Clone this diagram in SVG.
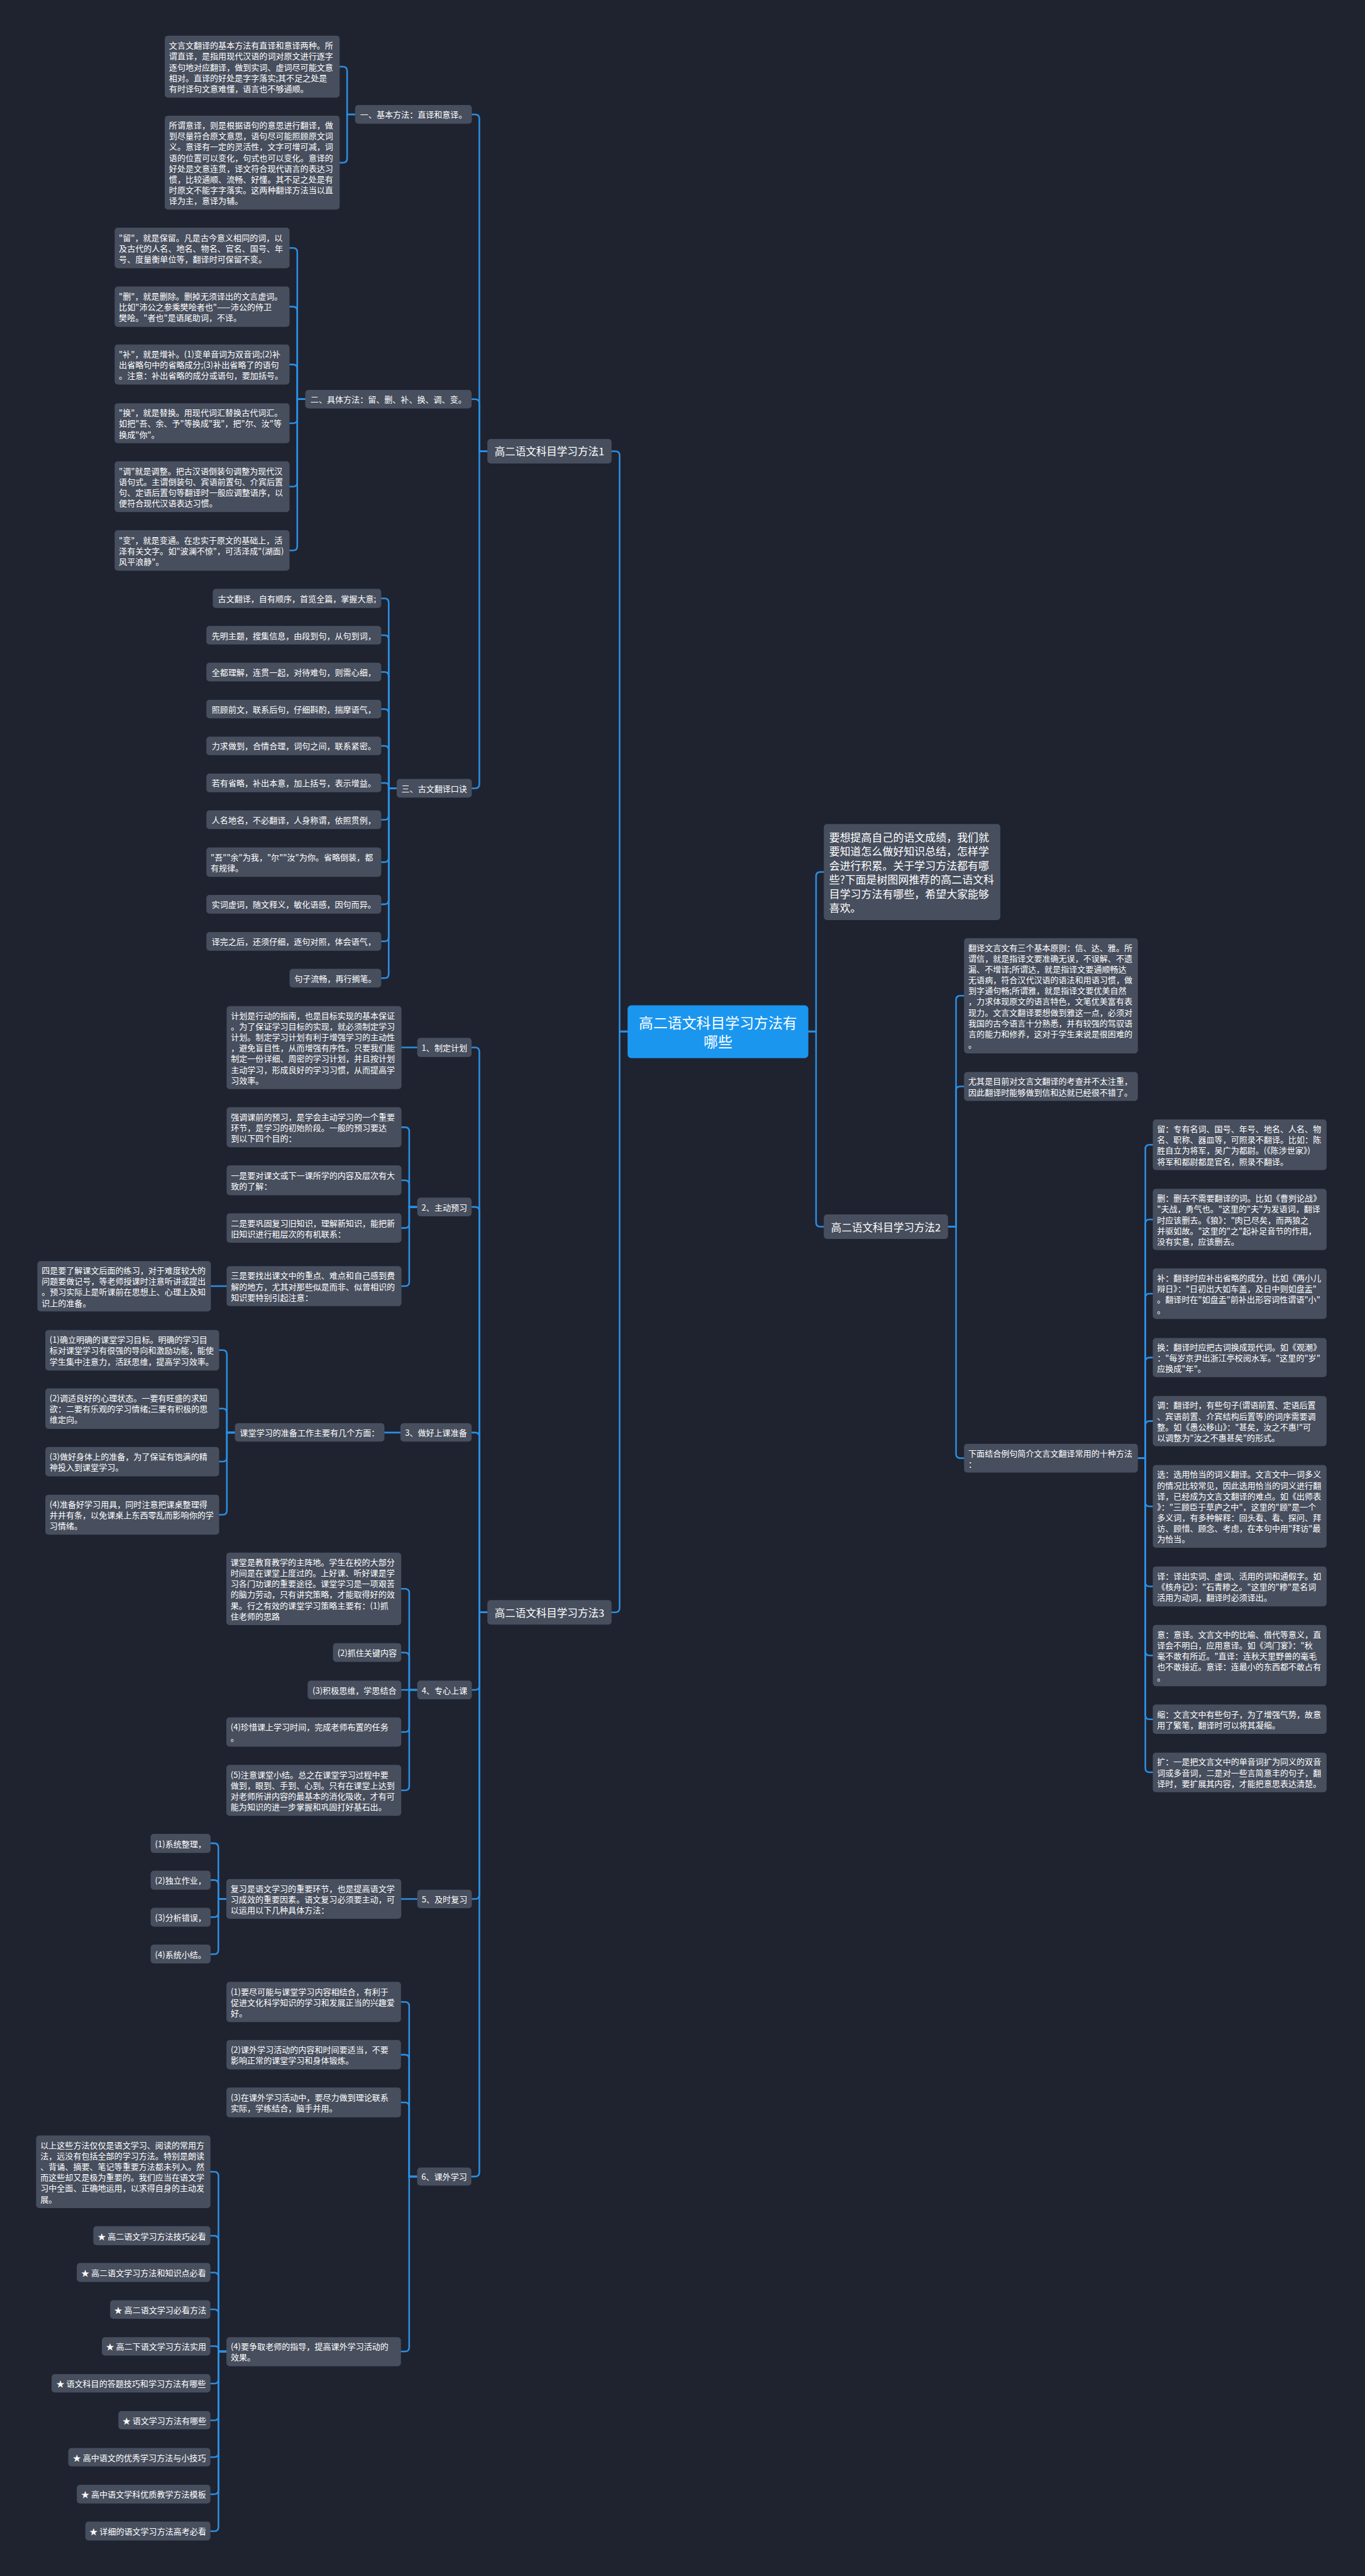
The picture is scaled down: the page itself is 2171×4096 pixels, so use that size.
<svg xmlns="http://www.w3.org/2000/svg" width="2171" height="4096" viewBox="0 0 2171 4096">
<style>
.nd{fill:#474e5d}
.rt{fill:#1a96ef}
.tx{fill:#ffffff;font-family:"Noto Sans CJK SC","Liberation Sans",sans-serif;font-size:15.4px;dominant-baseline:central}
.m{text-anchor:middle}
.br{font-size:19.5px}
.big{font-size:27px}
.in{font-size:20px}
.c{fill:none;stroke:#2b8fe3;stroke-width:3;stroke-linecap:round}
</style>
<rect x="0" y="0" width="2171" height="4096" fill="#1f2330"/>
<g transform="scale(0.84805)">
<g id="connectors">
<path class="c" d="M1177 1934H1162V854Q1162 846 1154 846H1147"/>
<path class="c" d="M1177 1934H1162V3015Q1162 3023 1154 3023H1147"/>
<path class="c" d="M914 846H899V222.5Q899 214.5 891 214.5H885"/>
<path class="c" d="M914 846H899V756.5Q899 748.5 891 748.5H885"/>
<path class="c" d="M914 846H899V1470Q899 1478 891 1478H885"/>
<path class="c" d="M666 214.5H651V133Q651 125 643 125H637"/>
<path class="c" d="M666 214.5H651V297Q651 305 643 305H637"/>
<path class="c" d="M572.5 748.5H557.5V473Q557.5 465 549.5 465H543"/>
<path class="c" d="M572.5 748.5H557.5V583Q557.5 575 549.5 575H543"/>
<path class="c" d="M572.5 748.5H557.5V691.5Q557.5 683.5 549.5 683.5H543"/>
<path class="c" d="M572.5 748.5H557.5V785.5Q557.5 793.5 549.5 793.5H543"/>
<path class="c" d="M572.5 748.5H557.5V904.5Q557.5 912.5 549.5 912.5H543"/>
<path class="c" d="M572.5 748.5H557.5V1024Q557.5 1032 549.5 1032H543"/>
<path class="c" d="M744 1478H729V1130Q729 1122 721 1122H715"/>
<path class="c" d="M744 1478H729V1199Q729 1191 721 1191H715"/>
<path class="c" d="M744 1478H729V1268Q729 1260 721 1260H715"/>
<path class="c" d="M744 1478H729V1337.5Q729 1329.5 721 1329.5H715"/>
<path class="c" d="M744 1478H729V1406.5Q729 1398.5 721 1398.5H715"/>
<path class="c" d="M744 1478H729V1474Q729 1468 723 1468H715"/>
<path class="c" d="M744 1478H729V1529Q729 1537 721 1537H715"/>
<path class="c" d="M744 1478H729V1608.5Q729 1616.5 721 1616.5H715"/>
<path class="c" d="M744 1478H729V1687.5Q729 1695.5 721 1695.5H715"/>
<path class="c" d="M744 1478H729V1757Q729 1765 721 1765H715"/>
<path class="c" d="M744 1478H729V1826Q729 1834 721 1834H715"/>
<path class="c" d="M914 3023H899V1972Q899 1964 891 1964H884.5"/>
<path class="c" d="M914 3023H899V2271Q899 2263 891 2263H884.5"/>
<path class="c" d="M914 3023H899V2694Q899 2686 891 2686H884.5"/>
<path class="c" d="M914 3023H899V3160.5Q899 3168.5 891 3168.5H884.5"/>
<path class="c" d="M914 3023H899V3552.5Q899 3560.5 891 3560.5H884.5"/>
<path class="c" d="M914 3023H899V4073Q899 4081 891 4081H884.5"/>
<path class="c" d="M782.5 1964H753"/>
<path class="c" d="M782.5 2263H767.5V2121.5Q767.5 2113.5 759.5 2113.5H753"/>
<path class="c" d="M782.5 2263H767.5V2221Q767.5 2213 759.5 2213H753"/>
<path class="c" d="M782.5 2263H767.5V2294.5Q767.5 2302.5 759.5 2302.5H753"/>
<path class="c" d="M782.5 2263H767.5V2403.5Q767.5 2411.5 759.5 2411.5H753"/>
<path class="c" d="M425 2411.5H395.5"/>
<path class="c" d="M751 2686H721"/>
<path class="c" d="M440.5 2686H425.5V2539.5Q425.5 2531.5 417.5 2531.5H411"/>
<path class="c" d="M440.5 2686H425.5V2649Q425.5 2641 417.5 2641H411"/>
<path class="c" d="M440.5 2686H425.5V2732.5Q425.5 2740.5 417.5 2740.5H411"/>
<path class="c" d="M440.5 2686H425.5V2832Q425.5 2840 417.5 2840H411"/>
<path class="c" d="M782.5 3168.5H767.5V2987Q767.5 2979 759.5 2979H752.6"/>
<path class="c" d="M782.5 3168.5H767.5V3106.5Q767.5 3098.5 759.5 3098.5H752.6"/>
<path class="c" d="M782.5 3168.5H752.6"/>
<path class="c" d="M782.5 3168.5H767.5V3239.5Q767.5 3247.5 759.5 3247.5H752.6"/>
<path class="c" d="M782.5 3168.5H767.5V3348.8Q767.5 3356.8 759.5 3356.8H752.6"/>
<path class="c" d="M782.5 3560.5H752.6"/>
<path class="c" d="M424.5 3560.5H409.5V3464Q409.5 3456 401.5 3456H395"/>
<path class="c" d="M424.5 3560.5H409.5V3533Q409.5 3525 401.5 3525H395"/>
<path class="c" d="M424.5 3560.5H409.5V3586.5Q409.5 3594.5 401.5 3594.5H395"/>
<path class="c" d="M424.5 3560.5H409.5V3656Q409.5 3664 401.5 3664H395"/>
<path class="c" d="M782.4 4081H767.4V3761.7Q767.4 3753.7 759.4 3753.7H752"/>
<path class="c" d="M782.4 4081H767.4V3860.5Q767.4 3852.5 759.4 3852.5H752"/>
<path class="c" d="M782.4 4081H767.4V3950Q767.4 3942 759.4 3942H752"/>
<path class="c" d="M782.4 4081H767.4V4401Q767.4 4409 759.4 4409H752"/>
<path class="c" d="M424.7 4409H409.7V4080Q409.7 4072 401.7 4072H394.6"/>
<path class="c" d="M424.7 4409H409.7V4200Q409.7 4192 401.7 4192H394.6"/>
<path class="c" d="M424.7 4409H409.7V4269Q409.7 4261 401.7 4261H394.6"/>
<path class="c" d="M424.7 4409H409.7V4338Q409.7 4330 401.7 4330H394.6"/>
<path class="c" d="M424.7 4409H409.7V4405Q409.7 4399 403.7 4399H394.6"/>
<path class="c" d="M424.7 4409H409.7V4461Q409.7 4469 401.7 4469H394.6"/>
<path class="c" d="M424.7 4409H409.7V4530Q409.7 4538 401.7 4538H394.6"/>
<path class="c" d="M424.7 4409H409.7V4599Q409.7 4607 401.7 4607H394.6"/>
<path class="c" d="M424.7 4409H409.7V4668.5Q409.7 4676.5 401.7 4676.5H394.6"/>
<path class="c" d="M424.7 4409H409.7V4738Q409.7 4746 401.7 4746H394.6"/>
<path class="c" d="M1516 1934H1530.5V1643Q1530.5 1635 1538.5 1635H1545"/>
<path class="c" d="M1516 1934H1530.5V2292Q1530.5 2300 1538.5 2300H1545"/>
<path class="c" d="M1778 2300H1793V1875Q1793 1867 1801 1867H1808"/>
<path class="c" d="M1778 2300H1793V2045Q1793 2037 1801 2037H1808"/>
<path class="c" d="M1778 2300H1793V2726Q1793 2734 1801 2734H1808"/>
<path class="c" d="M2134 2734H2148V2154.5Q2148 2146.5 2156 2146.5H2162"/>
<path class="c" d="M2134 2734H2148V2294.5Q2148 2286.5 2156 2286.5H2162"/>
<path class="c" d="M2134 2734H2148V2433.5Q2148 2425.5 2156 2425.5H2162"/>
<path class="c" d="M2134 2734H2148V2553.4Q2148 2545.4 2156 2545.4H2162"/>
<path class="c" d="M2134 2734H2148V2672.5Q2148 2664.5 2156 2664.5H2162"/>
<path class="c" d="M2134 2734H2148V2816.5Q2148 2824.5 2156 2824.5H2162"/>
<path class="c" d="M2134 2734H2148V2966.5Q2148 2974.5 2156 2974.5H2162"/>
<path class="c" d="M2134 2734H2148V3096Q2148 3104 2156 3104H2162"/>
<path class="c" d="M2134 2734H2148V3215.5Q2148 3223.5 2156 3223.5H2162"/>
<path class="c" d="M2134 2734H2148V3315Q2148 3323 2156 3323H2162"/>
</g>

<g id="root"><rect class="rt" x="1177" y="1885" width="339" height="99" rx="7"/>
<text class="tx big m" x="1346.5" y="1916">高二语文科目学习方法有</text>
<text class="tx big m" x="1346.5" y="1952">哪些</text></g>

<g id="branch1"><rect class="nd" x="914" y="823" width="233" height="46" rx="6"/><text class="tx br m" x="1030.5" y="846">高二语文科目学习方法1</text></g>
<g id="branch2"><rect class="nd" x="1545" y="2277" width="233" height="46" rx="6"/><text class="tx br m" x="1661.5" y="2300">高二语文科目学习方法2</text></g>
<g id="branch3"><rect class="nd" x="914" y="3000" width="233" height="46" rx="6"/><text class="tx br m" x="1030.5" y="3023">高二语文科目学习方法3</text></g>

<g id="intro"><rect class="nd" x="1545" y="1545" width="331" height="180" rx="6"/>
<text class="tx in" x="1555" y="1568.75">要想提高自己的语文成绩，我们就</text>
<text class="tx in" x="1555" y="1595.25">要知道怎么做好知识总结，怎样学</text>
<text class="tx in" x="1555" y="1621.75">会进行积累。关于学习方法都有哪</text>
<text class="tx in" x="1555" y="1648.25">些?下面是树图网推荐的高二语文科</text>
<text class="tx in" x="1555" y="1674.75">目学习方法有哪些，希望大家能够</text>
<text class="tx in" x="1555" y="1701.25">喜欢。</text></g>

<g id="n-basic"><rect class="nd" x="666" y="197" width="219" height="35" rx="6"/><text class="tx m" x="775.5" y="214.5">一、基本方法：直译和意译。</text></g>
<g id="a1"><rect class="nd" x="309" y="67" width="328" height="116" rx="6"/>
<text class="tx" x="317" y="84.6">文言文翻译的基本方法有直译和意译两种。所</text>
<text class="tx" x="317" y="104.8">谓直译，是指用现代汉语的词对原文进行逐字</text>
<text class="tx" x="317" y="125">逐句地对应翻译，做到实词、虚词尽可能文意</text>
<text class="tx" x="317" y="145.2">相对。直译的好处是字字落实;其不足之处是</text>
<text class="tx" x="317" y="165.4">有时译句文意难懂，语言也不够通顺。</text></g>
<g id="a2"><rect class="nd" x="309" y="217" width="328" height="176" rx="6"/>
<text class="tx" x="317" y="234.3">所谓意译，则是根据语句的意思进行翻译，做</text>
<text class="tx" x="317" y="254.5">到尽量符合原文意思，语句尽可能照顾原文词</text>
<text class="tx" x="317" y="274.7">义。意译有一定的灵活性，文字可增可减，词</text>
<text class="tx" x="317" y="294.9">语的位置可以变化，句式也可以变化。意译的</text>
<text class="tx" x="317" y="315.1">好处是文意连贯，译文符合现代语言的表达习</text>
<text class="tx" x="317" y="335.3">惯，比较通顺、流畅、好懂。其不足之处是有</text>
<text class="tx" x="317" y="355.5">时原文不能字字落实。这两种翻译方法当以直</text>
<text class="tx" x="317" y="375.7">译为主，意译为辅。</text></g>

<g id="n-specific"><rect class="nd" x="572.5" y="731" width="312" height="35" rx="6"/><text class="tx m" x="728.5" y="748.5">二、具体方法：留、删、补、换、调、变。</text></g>
<g id="b1"><rect class="nd" x="215" y="427" width="328" height="76" rx="6"/>
<text class="tx" x="223" y="444.8">"留"，就是保留。凡是古今意义相同的词，以</text>
<text class="tx" x="223" y="465">及古代的人名、地名、物名、官名、国号、年</text>
<text class="tx" x="223" y="485.2">号、度量衡单位等，翻译时可保留不变。</text></g>
<g id="b2"><rect class="nd" x="215" y="537" width="328" height="76" rx="6"/>
<text class="tx" x="223" y="554.8">"删"，就是删除。删掉无须译出的文言虚词。</text>
<text class="tx" x="223" y="575">比如"沛公之参乘樊哙者也"——沛公的侍卫</text>
<text class="tx" x="223" y="595.2">樊哙。"者也"是语尾助词，不译。</text></g>
<g id="b3"><rect class="nd" x="215" y="646" width="328" height="75" rx="6"/>
<text class="tx" x="223" y="663.3">"补"，就是增补。(1)变单音词为双音词;(2)补</text>
<text class="tx" x="223" y="683.5">出省略句中的省略成分;(3)补出省略了的语句</text>
<text class="tx" x="223" y="703.7">。注意：补出省略的成分或语句，要加括号。</text></g>
<g id="b4"><rect class="nd" x="215" y="756" width="328" height="75" rx="6"/>
<text class="tx" x="223" y="773.3">"换"，就是替换。用现代词汇替换古代词汇。</text>
<text class="tx" x="223" y="793.5">如把"吾、余、予"等换成"我"，把"尔、汝"等</text>
<text class="tx" x="223" y="813.7">换成"你"。</text></g>
<g id="b5"><rect class="nd" x="215" y="865" width="328" height="95" rx="6"/>
<text class="tx" x="223" y="882.2">"调"就是调整。把古汉语倒装句调整为现代汉</text>
<text class="tx" x="223" y="902.4">语句式。主谓倒装句、宾语前置句、介宾后置</text>
<text class="tx" x="223" y="922.6">句、定语后置句等翻译时一般应调整语序，以</text>
<text class="tx" x="223" y="942.8">便符合现代汉语表达习惯。</text></g>
<g id="b6"><rect class="nd" x="215" y="994" width="328" height="76" rx="6"/>
<text class="tx" x="223" y="1011.8">"变"，就是变通。在忠实于原文的基础上，活</text>
<text class="tx" x="223" y="1032">泽有关文字。如"波澜不惊"，可活泽成"(湖面)</text>
<text class="tx" x="223" y="1052.2">风平浪静"。</text></g>

<g id="n-rhyme"><rect class="nd" x="744" y="1460.5" width="141" height="35" rx="6"/><text class="tx m" x="814.5" y="1478">三、古文翻译口诀</text></g>
<g id="c1"><rect class="nd" x="399" y="1104" width="316" height="36" rx="6"/><text class="tx m" x="557" y="1122">古文翻译，自有顺序，首览全篇，掌握大意;</text></g>
<g id="c2"><rect class="nd" x="387" y="1173.5" width="328" height="35" rx="6"/><text class="tx m" x="551" y="1191">先明主题，搜集信息，由段到句，从句到词，</text></g>
<g id="c3"><rect class="nd" x="387" y="1242.5" width="328" height="35" rx="6"/><text class="tx m" x="551" y="1260">全都理解，连贯一起，对待难句，则需心细，</text></g>
<g id="c4"><rect class="nd" x="387" y="1312" width="328" height="35" rx="6"/><text class="tx m" x="551" y="1329.5">照顾前文，联系后句，仔细斟酌，揣摩语气，</text></g>
<g id="c5"><rect class="nd" x="387" y="1381" width="328" height="35" rx="6"/><text class="tx m" x="551" y="1398.5">力求做到，合情合理，词句之间，联系紧密。</text></g>
<g id="c6"><rect class="nd" x="387" y="1450.5" width="328" height="35" rx="6"/><text class="tx m" x="551" y="1468">若有省略，补出本意，加上括号，表示增益。</text></g>
<g id="c7"><rect class="nd" x="387" y="1519.5" width="328" height="35" rx="6"/><text class="tx m" x="551" y="1537">人名地名，不必翻译，人身称谓，依照贯例，</text></g>
<g id="c8"><rect class="nd" x="387" y="1589" width="328" height="55" rx="6"/>
<text class="tx" x="395" y="1606.4">"吾""余"为我，"尔""汝"为你。省略倒装，都</text>
<text class="tx" x="395" y="1626.6">有规律。</text></g>
<g id="c9"><rect class="nd" x="387" y="1678" width="328" height="35" rx="6"/><text class="tx m" x="551" y="1695.5">实词虚词，随文释义，敏化语感，因句而异。</text></g>
<g id="c10"><rect class="nd" x="387" y="1747.5" width="328" height="35" rx="6"/><text class="tx m" x="551" y="1765">译完之后，还须仔细，逐句对照，体会语气，</text></g>
<g id="c11"><rect class="nd" x="543" y="1816.5" width="172" height="35" rx="6"/><text class="tx m" x="629" y="1834">句子流畅，再行搁笔。</text></g>

<g id="n1"><rect class="nd" x="782.5" y="1946" width="102" height="36" rx="6"/><text class="tx m" x="833.5" y="1964">1、制定计划</text></g>
<g id="e1"><rect class="nd" x="425" y="1886.5" width="328" height="155.5" rx="6"/>
<text class="tx" x="433" y="1903.7">计划是行动的指南，也是目标实现的基本保证</text>
<text class="tx" x="433" y="1923.9">。为了保证学习目标的实现，就必须制定学习</text>
<text class="tx" x="433" y="1944.1">计划。制定学习计划有利于增强学习的主动性</text>
<text class="tx" x="433" y="1964.3">，避免盲目性，从而增强有序性。只要我们能</text>
<text class="tx" x="433" y="1984.5">制定一份详细、周密的学习计划，并且按计划</text>
<text class="tx" x="433" y="2004.7">主动学习，形成良好的学习习惯，从而提高学</text>
<text class="tx" x="433" y="2024.9">习效率。</text></g>

<g id="n2"><rect class="nd" x="782.5" y="2245.5" width="102" height="35" rx="6"/><text class="tx m" x="833.5" y="2263">2、主动预习</text></g>
<g id="f1"><rect class="nd" x="425" y="2076" width="328" height="75" rx="6"/>
<text class="tx" x="433" y="2093.3">强调课前的预习，是学会主动学习的一个重要</text>
<text class="tx" x="433" y="2113.5">环节，是学习的初始阶段。一般的预习要达</text>
<text class="tx" x="433" y="2133.7">到以下四个目的：</text></g>
<g id="f2"><rect class="nd" x="425" y="2185" width="328" height="56" rx="6"/>
<text class="tx" x="433" y="2202.9">一是要对课文或下一课所学的内容及层次有大</text>
<text class="tx" x="433" y="2223.1">致的了解：</text></g>
<g id="f3"><rect class="nd" x="425" y="2275" width="328" height="55" rx="6"/>
<text class="tx" x="433" y="2292.4">二是要巩固复习旧知识，理解新知识，能把新</text>
<text class="tx" x="433" y="2312.6">旧知识进行粗层次的有机联系：</text></g>
<g id="f4"><rect class="nd" x="425" y="2374" width="328" height="75" rx="6"/>
<text class="tx" x="433" y="2391.3">三是要找出课文中的重点、难点和自己感到费</text>
<text class="tx" x="433" y="2411.5">解的地方，尤其对那些似是而非、似曾相识的</text>
<text class="tx" x="433" y="2431.7">知识要特别引起注意：</text></g>
<g id="f5"><rect class="nd" x="70" y="2364.5" width="325.5" height="94.5" rx="6"/>
<text class="tx" x="78" y="2381.5">四是要了解课文后面的练习，对于难度较大的</text>
<text class="tx" x="78" y="2401.7">问题要做记号，等老师授课时注意听讲或提出</text>
<text class="tx" x="78" y="2421.9">。预习实际上是听课前在思想上、心理上及知</text>
<text class="tx" x="78" y="2442.1">识上的准备。</text></g>

<g id="n3"><rect class="nd" x="751" y="2668.6" width="133.5" height="34.5" rx="6"/><text class="tx m" x="817.7" y="2686">3、做好上课准备</text></g>
<g id="gp"><rect class="nd" x="440.5" y="2668.6" width="280.5" height="34.5" rx="6"/><text class="tx m" x="580.7" y="2686">课堂学习的准备工作主要有几个方面：</text></g>
<g id="g1"><rect class="nd" x="85" y="2493.6" width="326" height="76" rx="6"/>
<text class="tx" x="93" y="2511.4">(1)确立明确的课堂学习目标。明确的学习目</text>
<text class="tx" x="93" y="2531.6">标对课堂学习有很强的导向和激励功能，能使</text>
<text class="tx" x="93" y="2551.8">学生集中注意力，活跃思维，提高学习效率。</text></g>
<g id="g2"><rect class="nd" x="85" y="2603" width="326" height="76" rx="6"/>
<text class="tx" x="93" y="2620.8">(2)调适良好的心理状态。一要有旺盛的求知</text>
<text class="tx" x="93" y="2641">欲：二要有乐观的学习情绪;三要有积极的思</text>
<text class="tx" x="93" y="2661.2">维定向。</text></g>
<g id="g3"><rect class="nd" x="85" y="2713" width="326" height="55" rx="6"/>
<text class="tx" x="93" y="2730.4">(3)做好身体上的准备，为了保证有饱满的精</text>
<text class="tx" x="93" y="2750.6">神投入到课堂学习。</text></g>
<g id="g4"><rect class="nd" x="85" y="2802.5" width="326" height="75" rx="6"/>
<text class="tx" x="93" y="2819.8">(4)准备好学习用具，同时注意把课桌整理得</text>
<text class="tx" x="93" y="2840">井井有条，以免课桌上东西零乱而影响你的学</text>
<text class="tx" x="93" y="2860.2">习情绪。</text></g>

<g id="n4"><rect class="nd" x="782.5" y="3151" width="102.5" height="35" rx="6"/><text class="tx m" x="833.7" y="3168.5">4、专心上课</text></g>
<g id="h1"><rect class="nd" x="424.5" y="2911" width="328" height="136" rx="6"/>
<text class="tx" x="432.5" y="2928.5">课堂是教育教学的主阵地。学生在校的大部分</text>
<text class="tx" x="432.5" y="2948.7">时间是在课堂上度过的。上好课、听好课是学</text>
<text class="tx" x="432.5" y="2968.9">习各门功课的重要途径。课堂学习是一项艰苦</text>
<text class="tx" x="432.5" y="2989.1">的脑力劳动，只有讲究策略，才能取得好的效</text>
<text class="tx" x="432.5" y="3009.3">果。行之有效的课堂学习策略主要有：(1)抓</text>
<text class="tx" x="432.5" y="3029.5">住老师的思路</text></g>
<g id="h2"><rect class="nd" x="624.5" y="3081" width="128" height="35" rx="6"/><text class="tx m" x="688.5" y="3098.5">(2)抓住关键内容</text></g>
<g id="h3"><rect class="nd" x="577" y="3151" width="175.6" height="35" rx="6"/><text class="tx m" x="664.8" y="3168.5">(3)积极思维，学思结合</text></g>
<g id="h4"><rect class="nd" x="424.5" y="3220" width="328" height="55" rx="6"/>
<text class="tx" x="432.5" y="3237.4">(4)珍惜课上学习时间，完成老师布置的任务</text>
<text class="tx" x="432.5" y="3257.6">。</text></g>
<g id="h5"><rect class="nd" x="424.5" y="3309" width="328" height="95.6" rx="6"/>
<text class="tx" x="432.5" y="3326.5">(5)注意课堂小结。总之在课堂学习过程中要</text>
<text class="tx" x="432.5" y="3346.7">做到，眼到、手到、心到。只有在课堂上达到</text>
<text class="tx" x="432.5" y="3366.9">对老师所讲内容的最基本的消化吸收，才有可</text>
<text class="tx" x="432.5" y="3387.1">能为知识的进一步掌握和巩固打好基石出。</text></g>

<g id="n5"><rect class="nd" x="782.5" y="3543" width="102.5" height="35" rx="6"/><text class="tx m" x="833.7" y="3560.5">5、及时复习</text></g>
<g id="rv"><rect class="nd" x="424.5" y="3523" width="328" height="74.6" rx="6"/>
<text class="tx" x="432.5" y="3540.1">复习是语文学习的重要环节，也是提高语文学</text>
<text class="tx" x="432.5" y="3560.3">习成效的重要因素。语文复习必须要主动，可</text>
<text class="tx" x="432.5" y="3580.5">以运用以下几种具体方法：</text></g>
<g id="i1"><rect class="nd" x="282.5" y="3438.6" width="112.5" height="35.4" rx="6"/><text class="tx m" x="338.7" y="3456.3">(1)系统整理，</text></g>
<g id="i2"><rect class="nd" x="282.5" y="3507.6" width="112.5" height="35.4" rx="6"/><text class="tx m" x="338.7" y="3525.3">(2)独立作业，</text></g>
<g id="i3"><rect class="nd" x="282.5" y="3577" width="112.5" height="35.4" rx="6"/><text class="tx m" x="338.7" y="3594.7">(3)分析错误，</text></g>
<g id="i4"><rect class="nd" x="282.5" y="3646" width="112.5" height="35.4" rx="6"/><text class="tx m" x="338.7" y="3663.7">(4)系统小结。</text></g>

<g id="n6"><rect class="nd" x="782.4" y="4064" width="101.6" height="34" rx="6"/><text class="tx m" x="833.2" y="4081">6、课外学习</text></g>
<g id="j1"><rect class="nd" x="424.7" y="3716" width="327.3" height="75.4" rx="6"/>
<text class="tx" x="432.7" y="3733.5">(1)要尽可能与课堂学习内容相结合，有利于</text>
<text class="tx" x="432.7" y="3753.7">促进文化科学知识的学习和发展正当的兴趣爱</text>
<text class="tx" x="432.7" y="3773.9">好。</text></g>
<g id="j2"><rect class="nd" x="424.7" y="3825" width="327.3" height="55" rx="6"/>
<text class="tx" x="432.7" y="3842.4">(2)课外学习活动的内容和时间要适当，不要</text>
<text class="tx" x="432.7" y="3862.6">影响正常的课堂学习和身体锻炼。</text></g>
<g id="j3"><rect class="nd" x="424.7" y="3914" width="327.3" height="56" rx="6"/>
<text class="tx" x="432.7" y="3931.9">(3)在课外学习活动中，要尽力做到理论联系</text>
<text class="tx" x="432.7" y="3952.1">实际，学练结合，脑手并用。</text></g>
<g id="j4"><rect class="nd" x="424.7" y="4382" width="327.3" height="54.6" rx="6"/>
<text class="tx" x="432.7" y="4399.2">(4)要争取老师的指导，提高课外学习活动的</text>
<text class="tx" x="432.7" y="4419.4">效果。</text></g>
<g id="k1"><rect class="nd" x="67.7" y="4004" width="327" height="136" rx="6"/>
<text class="tx" x="75.7" y="4021.5">以上这些方法仅仅是语文学习、阅读的常用方</text>
<text class="tx" x="75.7" y="4041.7">法，远没有包括全部的学习方法。特别是朗读</text>
<text class="tx" x="75.7" y="4061.9">、背诵、摘要、笔记等重要方法都未列入。然</text>
<text class="tx" x="75.7" y="4082.1">而这些却又是极为重要的。我们应当在语文学</text>
<text class="tx" x="75.7" y="4102.3">习中全面、正确地运用，以求得自身的主动发</text>
<text class="tx" x="75.7" y="4122.5">展。</text></g>
<g id="k2"><rect class="nd" x="175" y="4174" width="219.6" height="35.6" rx="6"/><text class="tx m" x="284.8" y="4192">★ 高二语文学习方法技巧必看</text></g>
<g id="k3"><rect class="nd" x="144" y="4243" width="250.6" height="35.5" rx="6"/><text class="tx m" x="269.3" y="4261">★ 高二语文学习方法和知识点必看</text></g>
<g id="k4"><rect class="nd" x="206.5" y="4312.7" width="188" height="35" rx="6"/><text class="tx m" x="300.5" y="4330.2">★ 高二语文学习必看方法</text></g>
<g id="k5"><rect class="nd" x="191" y="4382" width="203.6" height="34.5" rx="6"/><text class="tx m" x="292.8" y="4399.2">★ 高二下语文学习方法实用</text></g>
<g id="k6"><rect class="nd" x="96.7" y="4451.5" width="298" height="34.5" rx="6"/><text class="tx m" x="245.7" y="4468.8">★ 语文科目的答题技巧和学习方法有哪些</text></g>
<g id="k7"><rect class="nd" x="222" y="4520.7" width="172.6" height="34.3" rx="6"/><text class="tx m" x="308.3" y="4537.9">★ 语文学习方法有哪些</text></g>
<g id="k8"><rect class="nd" x="128" y="4590" width="266.6" height="34.5" rx="6"/><text class="tx m" x="261.3" y="4607.2">★ 高中语文的优秀学习方法与小技巧</text></g>
<g id="k9"><rect class="nd" x="144" y="4659" width="250.6" height="35" rx="6"/><text class="tx m" x="269.3" y="4676.5">★ 高中语文学科优质教学方法模板</text></g>
<g id="k10"><rect class="nd" x="160" y="4728" width="234.6" height="35.4" rx="6"/><text class="tx m" x="277.3" y="4745.7">★ 详细的语文学习方法高考必看</text></g>

<g id="r1"><rect class="nd" x="1808" y="1759" width="326" height="216" rx="6"/>
<text class="tx" x="1816" y="1776.1">翻译文言文有三个基本原则：信、达、雅。所</text>
<text class="tx" x="1816" y="1796.3">谓信，就是指译文要准确无误，不误解、不遗</text>
<text class="tx" x="1816" y="1816.5">漏、不增译;所谓达，就是指译文要通顺畅达</text>
<text class="tx" x="1816" y="1836.7">无语病，符合汉代汉语的语法和用语习惯，做</text>
<text class="tx" x="1816" y="1856.9">到字通句畅;所谓雅，就是指译文要优美自然</text>
<text class="tx" x="1816" y="1877.1">，力求体现原文的语言特色，文笔优美富有表</text>
<text class="tx" x="1816" y="1897.3">现力。文言文翻译要想做到雅这一点，必须对</text>
<text class="tx" x="1816" y="1917.5">我国的古今语言十分熟悉，并有较强的驾驭语</text>
<text class="tx" x="1816" y="1937.7">言的能力和修养，这对于学生来说是很困难的</text>
<text class="tx" x="1816" y="1957.9">。</text></g>
<g id="r2"><rect class="nd" x="1808" y="2010" width="326" height="54" rx="6"/>
<text class="tx" x="1816" y="2026.9">尤其是目前对文言文翻译的考查并不太注重，</text>
<text class="tx" x="1816" y="2047.1">因此翻译时能够做到信和达就已经很不错了。</text></g>
<g id="r3"><rect class="nd" x="1808" y="2707" width="326" height="54" rx="6"/>
<text class="tx" x="1816" y="2723.9">下面结合例句简介文言文翻译常用的十种方法</text>
<text class="tx" x="1816" y="2744.1">：</text></g>

<g id="d1"><rect class="nd" x="2162" y="2099" width="326" height="95" rx="6"/>
<text class="tx" x="2170" y="2116.2">留：专有名词、国号、年号、地名、人名、物</text>
<text class="tx" x="2170" y="2136.4">名、职称、器皿等，可照录不翻译。比如：陈</text>
<text class="tx" x="2170" y="2156.6">胜自立为将军，吴广为都尉。(《陈涉世家》)</text>
<text class="tx" x="2170" y="2176.8">将军和都尉都是官名，照录不翻译。</text></g>
<g id="d2"><rect class="nd" x="2162" y="2229" width="326" height="115" rx="6"/>
<text class="tx" x="2170" y="2246.1">删：删去不需要翻译的词。比如《曹刿论战》</text>
<text class="tx" x="2170" y="2266.3">"夫战，勇气也。"这里的"夫"为发语词，翻译</text>
<text class="tx" x="2170" y="2286.5">时应该删去。《狼》："肉已尽矣，而两狼之</text>
<text class="tx" x="2170" y="2306.7">并驱如故。"这里的"之"起补足音节的作用，</text>
<text class="tx" x="2170" y="2326.9">没有实意，应该删去。</text></g>
<g id="d3"><rect class="nd" x="2162" y="2378" width="326" height="95" rx="6"/>
<text class="tx" x="2170" y="2395.2">补：翻译时应补出省略的成分。比如《两小儿</text>
<text class="tx" x="2170" y="2415.4">辩日》："日初出大如车盖，及日中则如盘盂"</text>
<text class="tx" x="2170" y="2435.6">。翻译时在"如盘盂"前补出形容词性谓语"小"</text>
<text class="tx" x="2170" y="2455.8">。</text></g>
<g id="d4"><rect class="nd" x="2162" y="2508.6" width="326" height="73.5" rx="6"/>
<text class="tx" x="2170" y="2525.2">换：翻译时应把古词换成现代词。如《观潮》</text>
<text class="tx" x="2170" y="2545.4">："每岁京尹出浙江亭校阅水军。"这里的"岁"</text>
<text class="tx" x="2170" y="2565.6">应换成"年"。</text></g>
<g id="d5"><rect class="nd" x="2162" y="2617.5" width="326" height="94" rx="6"/>
<text class="tx" x="2170" y="2634.2">调：翻译时，有些句子(谓语前置、定语后置</text>
<text class="tx" x="2170" y="2654.4">、宾语前置、介宾结构后置等)的词序需要调</text>
<text class="tx" x="2170" y="2674.6">整。如《愚公移山》："甚矣，汝之不惠!"可</text>
<text class="tx" x="2170" y="2694.8">以调整为"汝之不惠甚矣"的形式。</text></g>
<g id="d6"><rect class="nd" x="2162" y="2747" width="326" height="155" rx="6"/>
<text class="tx" x="2170" y="2763.9">选：选用恰当的词义翻译。文言文中一词多义</text>
<text class="tx" x="2170" y="2784.1">的情况比较常见，因此选用恰当的词义进行翻</text>
<text class="tx" x="2170" y="2804.3">译，已经成为文言文翻译的难点。如《出师表</text>
<text class="tx" x="2170" y="2824.5">》："三顾臣于草庐之中"，这里的"顾"是一个</text>
<text class="tx" x="2170" y="2844.7">多义词，有多种解释：回头看、看、探问、拜</text>
<text class="tx" x="2170" y="2864.9">访、顾惜、顾念、考虑，在本句中用"拜访"最</text>
<text class="tx" x="2170" y="2885.1">为恰当。</text></g>
<g id="d7"><rect class="nd" x="2162" y="2937" width="326" height="75" rx="6"/>
<text class="tx" x="2170" y="2954.3">译：译出实词、虚词、活用的词和通假字。如</text>
<text class="tx" x="2170" y="2974.5">《核舟记》："石青糁之。"这里的"糁"是名词</text>
<text class="tx" x="2170" y="2994.7">活用为动词，翻译时必须译出。</text></g>
<g id="d8"><rect class="nd" x="2162" y="3046.6" width="326" height="115" rx="6"/>
<text class="tx" x="2170" y="3063.6">意：意译。文言文中的比喻、借代等意义，直</text>
<text class="tx" x="2170" y="3083.8">译会不明白，应用意译。如《鸿门宴》："秋</text>
<text class="tx" x="2170" y="3104">毫不敢有所近。"直译：连秋天里野兽的毫毛</text>
<text class="tx" x="2170" y="3124.2">也不敢接近。意译：连最小的东西都不敢占有</text>
<text class="tx" x="2170" y="3144.4">。</text></g>
<g id="d9"><rect class="nd" x="2162" y="3196" width="326" height="55" rx="6"/>
<text class="tx" x="2170" y="3213.4">缩：文言文中有些句子，为了增强气势，故意</text>
<text class="tx" x="2170" y="3233.6">用了繁笔，翻译时可以将其凝缩。</text></g>
<g id="d10"><rect class="nd" x="2162" y="3286" width="326" height="74.5" rx="6"/>
<text class="tx" x="2170" y="3302.8">扩：一是把文言文中的单音词扩为同义的双音</text>
<text class="tx" x="2170" y="3323">词或多音词，二是对一些言简意丰的句子，翻</text>
<text class="tx" x="2170" y="3343.2">译时，要扩展其内容，才能把意思表达清楚。</text></g>
</g>
</svg>
